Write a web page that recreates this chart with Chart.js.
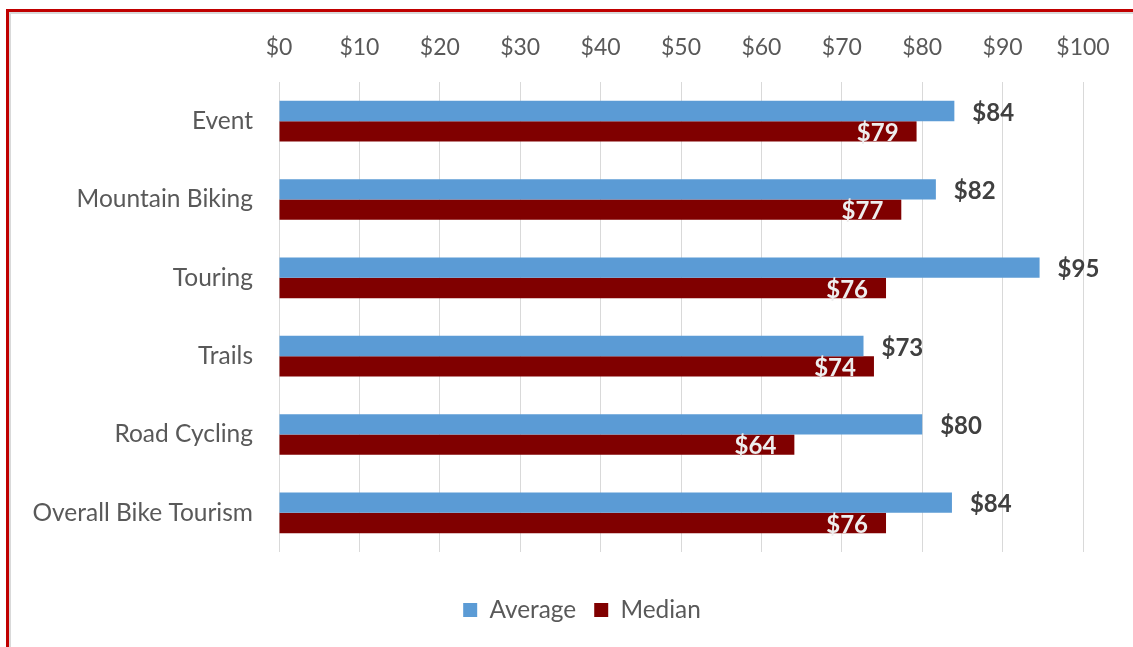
<!DOCTYPE html>
<html>
<head>
<meta charset="utf-8">
<script src="https://cdn.jsdelivr.net/npm/chart.js@4.4.1/dist/chart.umd.min.js"></script>
<style>
  html, body { margin: 0; padding: 0; background: #ffffff; overflow: hidden; }
  #wrap { position: relative; width: 1133px; height: 647px; }
  #c { position: absolute; left: 0; top: 0; }
  #frame { position: absolute; left: 6px; top: 9px; right: -10px; bottom: -10px;
           border-left: 3px solid #c00000; border-top: 3px solid #c00000;
           box-shadow: inset 2px 2px 0 #d9d9d9; pointer-events: none; }
</style>
</head>
<body>
<div id="wrap">
  <canvas id="c" width="1133" height="647"></canvas>
  <div id="frame"></div>
</div>
<script>
const categories = ['Event', 'Mountain Biking', 'Touring', 'Trails', 'Road Cycling', 'Overall Bike Tourism'];
const averageValues = [84.0, 81.7, 94.6, 72.7, 80.0, 83.7];
const medianValues = [79.3, 77.4, 75.5, 74.0, 64.1, 75.5];
const seriesNames = ['Average', 'Median'];
const xTickMin = 0, xTickMax = 100, xTickStep = 10;

const FONT = 'Lato, "Open Sans", "Liberation Sans", sans-serif';

const barLabels = {
  id: 'barLabels',
  afterDatasetsDraw(chart) {
    const ctx = chart.ctx;
    chart.data.datasets.forEach((ds, di) => {
      const meta = chart.getDatasetMeta(di);
      meta.data.forEach((el, i) => {
        const v = ds.data[i];
        const txt = '$' + Math.round(v);
        ctx.save();
        ctx.textBaseline = 'middle';
        ctx.font = 'bold 24px ' + FONT;
        if (di === 0) {
          ctx.fillStyle = '#404040';
          ctx.textAlign = 'left';
          ctx.fillText(txt, el.x + 18, el.y + 2);
        } else {
          ctx.fillStyle = '#eeeeee';
          ctx.textAlign = 'right';
          ctx.fillText(txt, el.x - 18, el.y + 2);
        }
        ctx.restore();
      });
    });
  }
};

new Chart(document.getElementById('c'), {
  type: 'bar',
  data: {
    labels: categories,
    datasets: [
      { label: seriesNames[0], data: averageValues, backgroundColor: '#5b9bd5', borderWidth: 0,
        categoryPercentage: 0.52, barPercentage: 1.0 },
      { label: seriesNames[1], data: medianValues, backgroundColor: '#800000', borderWidth: 0,
        categoryPercentage: 0.52, barPercentage: 1.0 }
    ]
  },
  options: {
    indexAxis: 'y',
    responsive: false,
    animation: false,
    devicePixelRatio: 1,
    layout: { padding: { left: 0, right: -31, top: 0, bottom: 14.8 } },
    scales: {
      x: {
        position: 'top',
        min: xTickMin, max: xTickMax,
        ticks: {
          stepSize: xTickStep,
          padding: 21,
          color: '#595959',
          font: { family: FONT, size: 23 },
          callback: v => '$' + v
        },
        grid: { color: '#d9d9d9', lineWidth: 1, drawTicks: false },
        border: { display: false },
        afterFit: s => { s.height = 82; }
      },
      x2: {
        type: 'linear',
        position: 'bottom',
        display: true,
        ticks: { display: false },
        grid: { display: false, drawTicks: false },
        border: { display: false },
        afterFit: s => { s.height = 27.8; }
      },
      y: {
        ticks: {
          padding: 26,
          color: '#595959',
          font: { family: FONT, size: 24.5 }
        },
        grid: { display: false, drawTicks: false },
        border: { display: false },
        afterFit: s => { s.width = 279; }
      },
      y2: {
        type: 'linear',
        position: 'right',
        display: true,
        ticks: { display: false },
        grid: { display: false, drawTicks: false },
        border: { display: false },
        afterFit: s => { s.width = 81; }
      }
    },
    plugins: {
      legend: {
        position: 'bottom',
        labels: {
          boxWidth: 14, boxHeight: 14, padding: 18,
          color: '#595959',
          font: { family: FONT, size: 24.4 }
        }
      },
      tooltip: { enabled: false }
    }
  },
  plugins: [barLabels]
});
</script>
</body>
</html>
